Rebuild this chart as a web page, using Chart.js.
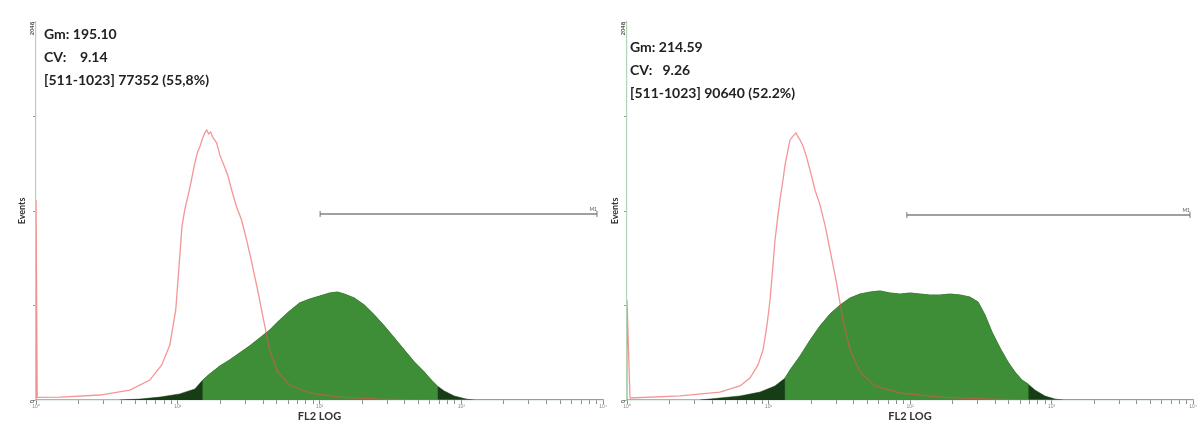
<!DOCTYPE html>
<html>
<head>
<meta charset="utf-8">
<script src="https://cdn.jsdelivr.net/npm/chart.js@4.4.1/dist/chart.umd.min.js"></script>
<style>
  body { margin: 0; background: #fff; }
  #wrap { position: relative; width: 1203px; height: 423px; overflow: hidden; }
  canvas { position: absolute; top: 0; }
  #left { left: 0; }
  #right { left: 603px; }
</style>
</head>
<body>
<div id="wrap">
  <canvas id="left" width="608" height="423"></canvas>
  <canvas id="right" width="600" height="423"></canvas>
</div>
<script>
// tick labels
var decadeLabels = ["10⁰", "10¹", "10²", "10³", "10⁴"];
var yTickLabels = { 0: "0", 2048: "2048" };

// left panel: FL2 value vs events
var leftStats = ["Gm: 195.10", "CV:    9.14", "[511-1023] 77352 (55,8%)"];

var leftRedX = [1, 1, 1.02, 1.48, 2.82, 4.59, 6.35, 7.71, 8.79, 9.68, 10.2, 10.7, 11.2, 12.2, 13.2, 13.8, 14.3, 15.0, 15.5, 16.0, 16.5, 17.1, 17.6, 18.8, 19.8, 21.1, 22.5, 24.0, 26.0, 28.2, 30.6, 33.2, 36.6, 40.3, 44.5, 50.6, 61.5, 85, 138, 264, 505, 10000];
var leftRedY = [0, 1084, 14, 16, 27, 54, 108, 190, 298, 488, 720, 938, 1030, 1154, 1284, 1344, 1371, 1420, 1447, 1463, 1442, 1452, 1425, 1393, 1328, 1274, 1219, 1138, 1046, 975, 867, 748, 596, 434, 271, 152, 81, 38, 16, 5, 0, 0];

var leftGreenX = [15.0, 15.0, 16.8, 19.8, 23.2, 27.3, 32.1, 37.8, 44.5, 52.3, 61.5, 72.3, 85.1, 100, 118, 134, 150, 176, 207, 244, 287, 338, 397, 467, 549, 615, 678, 678];
var leftGreenY = [0, 108, 141, 184, 217, 255, 293, 336, 379, 433, 482, 526, 547, 563, 580, 585, 574, 553, 515, 461, 401, 336, 271, 206, 152, 108, 76, 0];

var leftDarkLowX = [3.9, 5.4, 7.5, 10.3, 13.2];
var leftDarkLowY = [0, 5, 16, 33, 60];
var leftDarkHighX = [759, 893, 1084, 1236];
var leftDarkHighY = [49, 22, 5, 0];

var leftGateX = [101, 9070];
var leftGateY = 1008;

// right panel
var rightStats = ["Gm: 214.59", "CV:   9.26", "[511-1023] 90640 (52.2%)"];

var rightRedX = [1, 1, 1.05, 2.37, 4.54, 6.29, 7.40, 8.43, 9.15, 9.76, 10.25, 10.76, 11.12, 11.67, 12.05, 12.66, 13.08, 13.73, 14.19, 14.90, 15.64, 16.16, 16.70, 17.53, 18.41, 19.65, 21.31, 23.12, 25.08, 27.2, 30.0, 33.6, 37.7, 44.4, 56.6, 85, 163, 367, 700, 10000];
var rightRedY = [0, 540, 11, 22, 43, 76, 119, 190, 271, 406, 542, 731, 867, 1002, 1084, 1192, 1273, 1355, 1409, 1430, 1447, 1425, 1409, 1376, 1327, 1246, 1138, 1057, 948, 813, 650, 433, 271, 152, 76, 38, 16, 5, 0, 0];

var rightGreenX = [13.1, 13.1, 14.2, 16.7, 19.7, 23.1, 27.2, 32.1, 37.7, 44.3, 52.2, 61.4, 72.2, 85, 100, 118, 138, 163, 192, 226, 265, 303, 339, 380, 433, 493, 552, 619, 682, 682];
var rightGreenY = [0, 119, 163, 238, 325, 401, 466, 515, 553, 574, 585, 591, 580, 574, 580, 574, 569, 569, 574, 569, 558, 531, 461, 368, 282, 206, 152, 108, 87, 0];

var rightDarkLowX = [3.28, 4.54, 6.29, 8.71, 11.1];
var rightDarkLowY = [0, 11, 22, 43, 76];
var rightDarkHighX = [764, 899, 1059, 1200];
var rightDarkHighY = [54, 22, 5, 0];

var rightGateX = [95, 9520];
var rightGateY = 1002;

function toPoints(xs, ys) {
  return xs.map((x, i) => ({ x: x, y: ys[i] }));
}

// minor log ticks 1..9 per decade
function logTicks(scale) {
  var t = [];
  for (var k = 0; k < 4; k++) {
    for (var m = 1; m < 10; m++) t.push({ value: m * Math.pow(10, k) });
  }
  t.push({ value: 10000 });
  scale.ticks = t;
}

function makeChart(id, p) {
  var statsPlugin = {
    id: "stats",
    afterDraw(chart) {
      var ctx = chart.ctx;
      ctx.save();
      ctx.fillStyle = "#222";
      ctx.font = "bold 14px Lato";
      ctx.textBaseline = "middle";
      p.stats.forEach((s, i) => ctx.fillText(s, p.textX, p.textY + i * 23));
      // gate label
      var gx = chart.scales.x.getPixelForValue(p.gateX[1]);
      var gy = chart.scales.y.getPixelForValue(p.gateY);
      ctx.font = "5px Lato";
      ctx.fillStyle = "#555";
      ctx.textAlign = "right";
      ctx.fillText("M1", gx, gy - 5);
      ctx.restore();
    }
  };

  var dark = toPoints(p.darkLowX, p.darkLowY)
    .concat(toPoints(p.greenX.slice(1, -1), p.greenY.slice(1, -1)))
    .concat(toPoints(p.darkHighX, p.darkHighY));

  return new Chart(document.getElementById(id), {
    type: "line",
    data: {
      datasets: [
        {
          data: toPoints(p.redX, p.redY),
          borderColor: "rgba(236,80,80,0.6)",
          borderWidth: 1.3,
          fill: false,
          pointRadius: 0,
          order: 0
        },
        {
          data: [{ x: p.gateX[0], y: p.gateY }, { x: p.gateX[1], y: p.gateY }],
          borderColor: "#a0a0a0",
          borderWidth: 2,
          pointStyle: "line",
          rotation: 90,
          pointRadius: 3,
          pointBorderColor: "#777",
          pointBorderWidth: 1,
          order: 1
        },
        {
          data: toPoints(p.greenX, p.greenY),
          borderColor: "#3e8e37",
          backgroundColor: "#3e8e37",
          borderWidth: 0.5,
          fill: "origin",
          pointRadius: 0,
          order: 2
        },
        {
          data: dark,
          borderColor: "#173d17",
          backgroundColor: "#173d17",
          borderWidth: 0.5,
          fill: "origin",
          pointRadius: 0,
          order: 3
        }
      ]
    },
    options: {
      responsive: false,
      animation: false,
      devicePixelRatio: 1,
      layout: { padding: { top: 22, right: p.padRight, left: 0, bottom: 0 } },
      plugins: { legend: { display: false }, tooltip: { enabled: false } },
      scales: {
        x: {
          type: "logarithmic",
          min: 1,
          max: 10000,
          afterBuildTicks: logTicks,
          afterFit(s) { s.height = 23; },
          ticks: {
            autoSkip: false,
            minRotation: 0,
            maxRotation: 0,
            padding: 0,
            color: "#888",
            font: { size: 5 },
            callback: function (v) {
              var l = Math.log10(v);
              return Math.abs(l - Math.round(l)) < 1e-9 ? decadeLabels[Math.round(l)] : "";
            }
          },
          grid: { drawOnChartArea: false, tickLength: 4, color: "#8a8a8a" },
          border: { color: "#9dbf9d", width: 1.2 },
          title: {
            display: true,
            text: "FL2 LOG",
            color: "#333",
            font: { size: 11, weight: "bold", family: "Lato" },
            padding: { top: 0, bottom: 0 }
          }
        },
        y: {
          min: 0,
          max: 2048,
          afterFit(s) { s.width = p.yWidth; },
          ticks: {
            stepSize: 512,
            minRotation: 90,
            maxRotation: 90,
            padding: 1,
            color: "#555",
            font: { size: 6, weight: "bold" },
            callback: v => yTickLabels[v] || ""
          },
          grid: { drawOnChartArea: false, tickLength: 3, color: "#999" },
          border: { color: "#b3d4b3", width: 1.2 },
          title: {
            display: true,
            text: "Events",
            color: "#333",
            font: { size: 9, weight: "bold", family: "Lato" },
            padding: { top: p.titlePad, bottom: 0 }
          }
        }
      }
    },
    plugins: [statsPlugin]
  });
}

makeChart("left", {
  stats: leftStats, textX: 44, textY: 34,
  redX: leftRedX, redY: leftRedY,
  greenX: leftGreenX, greenY: leftGreenY,
  darkLowX: leftDarkLowX, darkLowY: leftDarkLowY,
  darkHighX: leftDarkHighX, darkHighY: leftDarkHighY,
  gateX: leftGateX, gateY: leftGateY,
  yWidth: 36, titlePad: 17, padRight: 4
});

makeChart("right", {
  stats: rightStats, textX: 27, textY: 47,
  redX: rightRedX, redY: rightRedY,
  greenX: rightGreenX, greenY: rightGreenY,
  darkLowX: rightDarkLowX, darkLowY: rightDarkLowY,
  darkHighX: rightDarkHighX, darkHighY: rightDarkHighY,
  gateX: rightGateX, gateY: rightGateY,
  yWidth: 24, titlePad: 7, padRight: 10
});
</script>
</body>
</html>
